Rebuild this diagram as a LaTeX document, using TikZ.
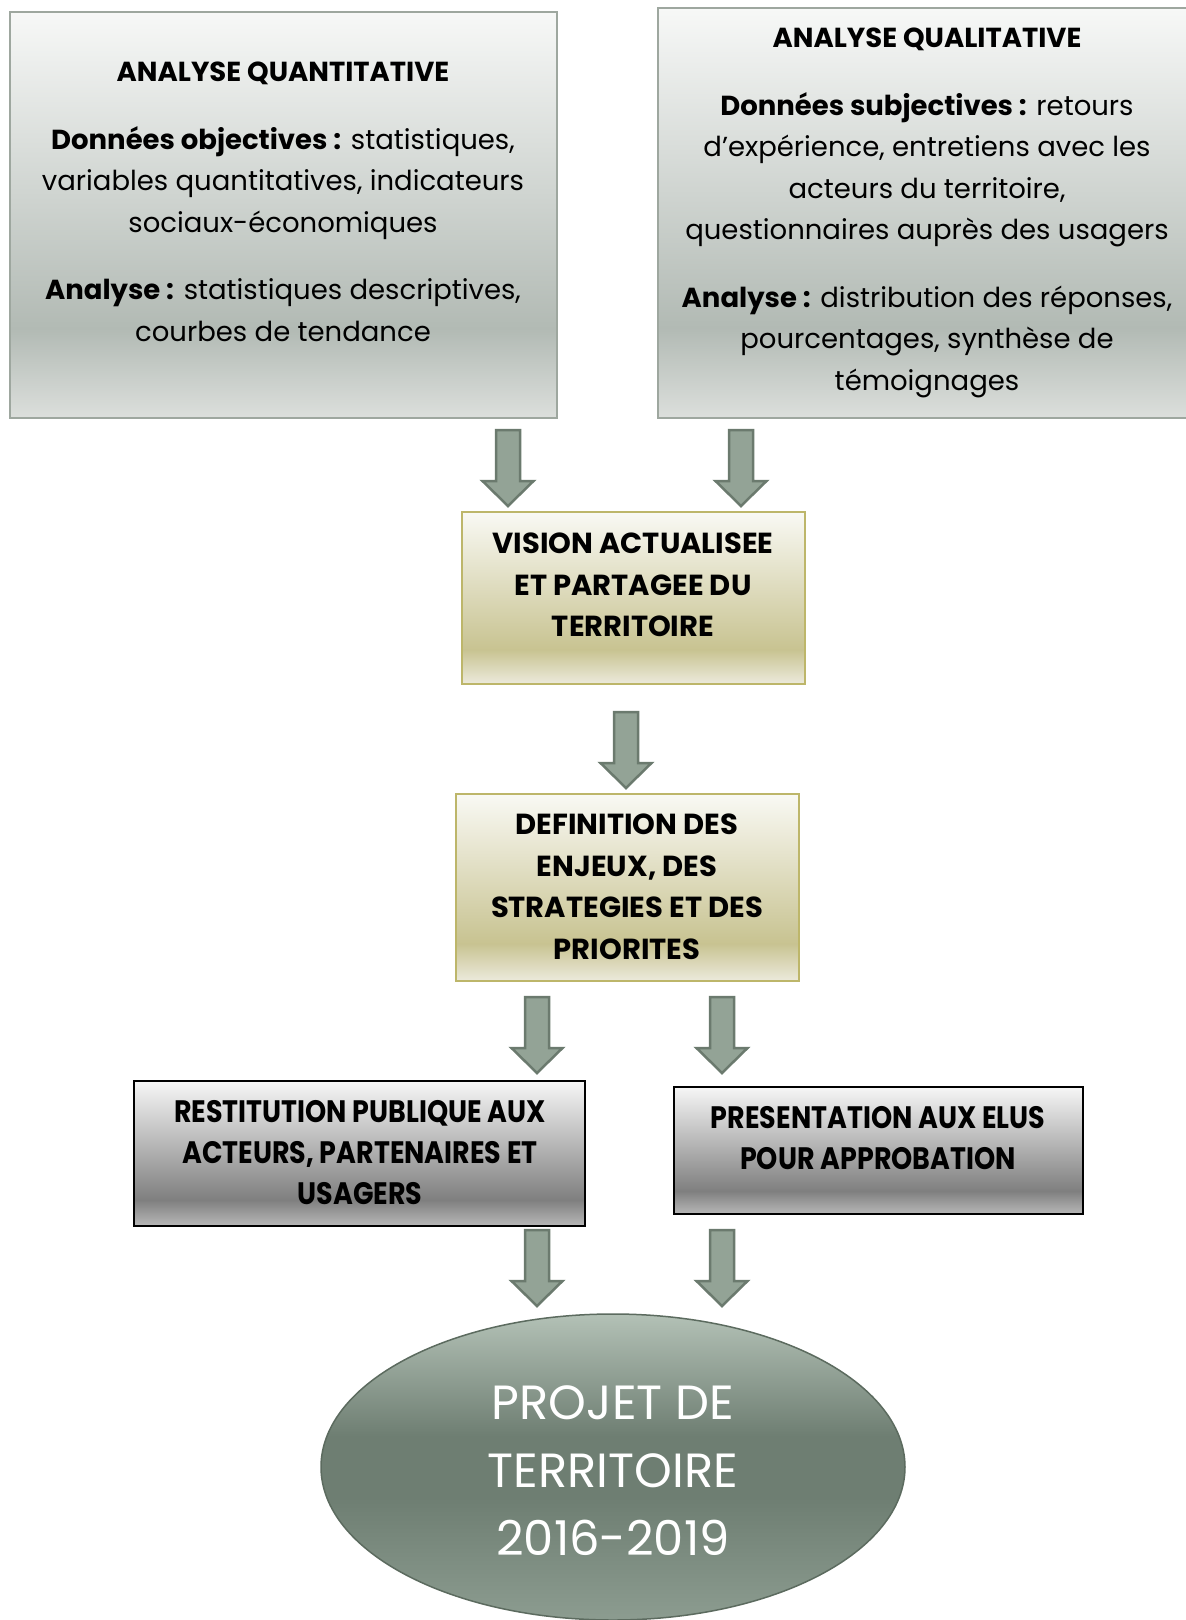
\documentclass[tikz,border=0pt]{standalone}
\usepackage{fontspec}
\setmainfont{Poppins}
\newfontfamily\condfont[FakeStretch=0.87]{Poppins}
\usetikzlibrary{shapes.geometric}

\definecolor{qtop}{HTML}{F7F8F7}
\definecolor{qmid}{HTML}{B2BAB4}
\definecolor{qbot}{HTML}{DCDFDC}
\definecolor{qline}{HTML}{9EA79F}
\definecolor{ktop}{HTML}{F9F9F4}
\definecolor{kmid}{HTML}{C8C391}
\definecolor{kbot}{HTML}{ECEADC}
\definecolor{kline}{HTML}{BDB66A}
\definecolor{gtop}{HTML}{F6F6F6}
\definecolor{gmid}{HTML}{7F7F7F}
\definecolor{gbot}{HTML}{B8B8B8}
\definecolor{etop}{HTML}{B3C1B6}
\definecolor{emid}{HTML}{6E7E72}
\definecolor{ebot}{HTML}{8C9C90}
\definecolor{eline}{HTML}{5C6B5F}
\definecolor{afill}{HTML}{93A396}
\definecolor{aline}{HTML}{6B7A6E}

\pgfdeclareverticalshading{qshade}{100bp}{color(0bp)=(qbot); color(25bp)=(qbot); color(36bp)=(qmid); color(75bp)=(qtop); color(100bp)=(qtop)}
\pgfdeclareverticalshading{kshade}{100bp}{color(0bp)=(kbot); color(25bp)=(kbot); color(35bp)=(kmid); color(75bp)=(ktop); color(100bp)=(ktop)}
\pgfdeclareverticalshading{gshade}{100bp}{color(0bp)=(gbot); color(25bp)=(gbot); color(34bp)=(gmid); color(75bp)=(gtop); color(100bp)=(gtop)}
\pgfdeclareverticalshading{eshade}{100bp}{color(0bp)=(ebot); color(25bp)=(ebot); color(45bp)=(emid); color(55bp)=(emid); color(75bp)=(etop); color(100bp)=(etop)}

\tikzset{
  qbox/.style={rectangle, draw=qline, line width=1.5pt, shading=qshade, inner sep=0pt},
  kbox/.style={rectangle, draw=kline, line width=1.5pt, shading=kshade, inner sep=0pt},
  gbox/.style={rectangle, draw=black, line width=2pt, shading=gshade, inner sep=0pt},
  ebox/.style={ellipse, draw=eline, line width=1.5pt, shading=eshade, inner sep=0pt},
  bodytxt/.style={align=center, inner sep=0pt, font=\fontsize{27.5}{41.5}\selectfont},
  captxt/.style={align=center, inner sep=0pt, font=\fontsize{29}{41.5}\selectfont\bfseries},
  condtxt/.style={align=center, inner sep=0pt, font=\fontsize{31}{41}\selectfont\condfont\bfseries},
  elltxt/.style={align=center, inner sep=0pt, text=white, font=\fontsize{48}{68}\selectfont},
  blockarrow/.style={draw=aline, fill=afill, line width=2.5pt, line join=miter},
  pics/barrow/.style={code={
    \draw[blockarrow] (-12,0) -- (12,0) -- (12,51) -- (25.5,51) -- (0,76) -- (-25.5,51) -- (-12,51) -- cycle;
  }}
}

\begin{document}
\begin{tikzpicture}[x=1pt, y=-1pt]
\useasboundingbox (0,0) rectangle (1186,1620);
\fill[white] (0,0) rectangle (1186,1620);

% boxes
\node[qbox, minimum width=547, minimum height=406] (quant) at (283.5,215) {};
\node[qbox, minimum width=536, minimum height=410] (qual) at (926,213) {};
\node[kbox, minimum width=343, minimum height=172] (vision) at (633.5,598) {};
\node[kbox, minimum width=343, minimum height=187] (defin) at (627.5,887.5) {};
\node[gbox, minimum width=451, minimum height=145] (restit) at (359.5,1153.5) {};
\node[gbox, minimum width=409, minimum height=127] (present) at (878.5,1150.5) {};
\node[ebox, minimum width=584, minimum height=306] (projet) at (613,1467) {};

% texts
\node[bodytxt] (quant-t) at (283,202) {{\bfseries ANALYSE QUANTITATIVE}\\[26pt]
  {\bfseries Données objectives :} statistiques,\\
  variables quantitatives, indicateurs\\
  sociaux-économiques\\[26pt]
  {\bfseries Analyse :} statistiques descriptives,\\
  courbes de tendance};
\node[bodytxt] (qual-t) at (927,213) {{\bfseries ANALYSE QUALITATIVE}\\[26pt]
  {\bfseries Données subjectives :} retours\\
  d’expérience, entretiens avec les\\
  acteurs du territoire,\\
  questionnaires auprès des usagers\\[26pt]
  {\bfseries Analyse :} distribution des réponses,\\
  pourcentages, synthèse de\\
  témoignages};
\node[captxt] (vision-t) at (633,585) {VISION ACTUALISEE\\ ET PARTAGEE DU\\ TERRITOIRE};
\node[captxt] (defin-t) at (627,887) {DEFINITION DES\\ ENJEUX, DES\\ STRATEGIES ET DES\\ PRIORITES};
\node[condtxt] (restit-t) at (360,1153) {RESTITUTION PUBLIQUE AUX\\ ACTEURS, PARTENAIRES ET\\ USAGERS};
\node[condtxt] (present-t) at (878,1138) {PRESENTATION AUX ELUS\\ POUR APPROBATION};
\node[elltxt] (projet-t) at (613,1471) {PROJET DE\\ TERRITOIRE\\ 2016-2019};

% block arrows
\pic at (508,430) {barrow};
\pic at (741,430) {barrow};
\pic at (626,712) {barrow};
\pic at (537,997) {barrow};
\pic at (722,997) {barrow};
\pic at (537,1230) {barrow};
\pic at (722,1230) {barrow};
\end{tikzpicture}
\end{document}
